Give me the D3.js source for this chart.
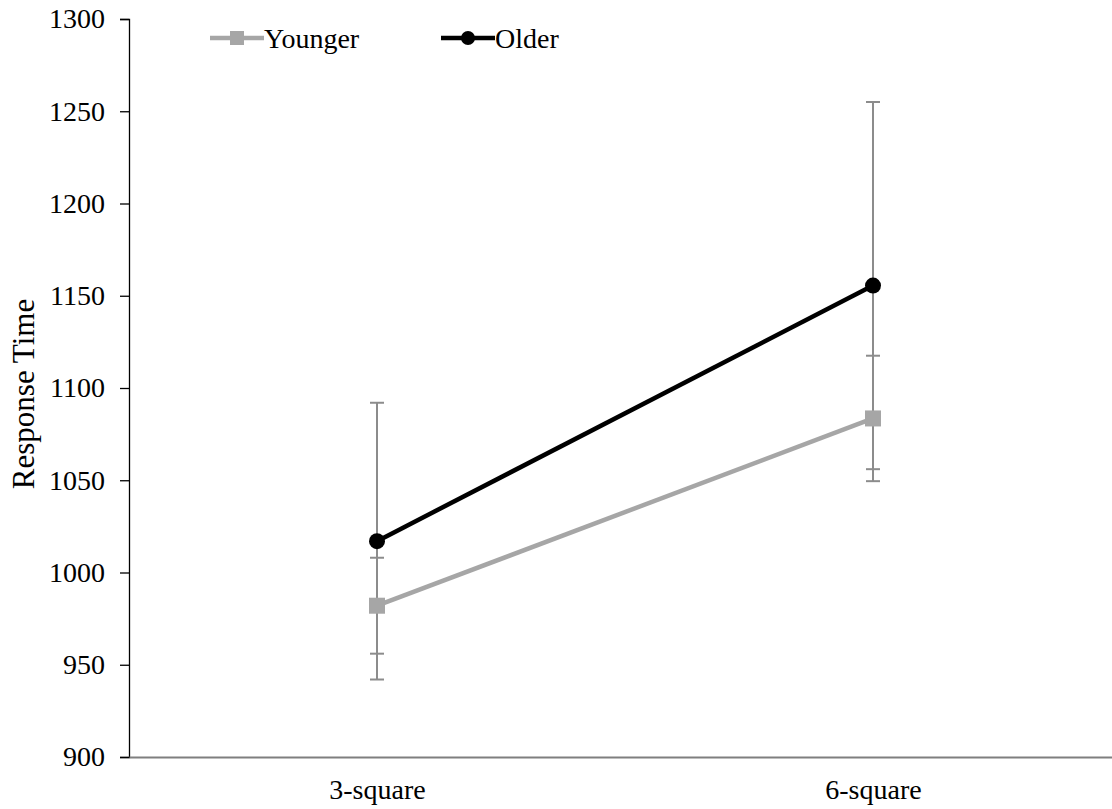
<!DOCTYPE html>
<html>
<head>
<meta charset="utf-8">
<script src="https://cdn.jsdelivr.net/npm/d3@7"></script>
<style>
  body { margin: 0; background: #fff; }
  svg text { font-family: "Liberation Serif", "DejaVu Serif", "Times New Roman", Times, serif !important; }
</style>
</head>
<body>
<script>
var width = 1112,
    height = 809;

// data
var categories = ["3-square", "6-square"];
var younger = [982, 1083.5];
var youngerErr = [26, 34];
var older = [1017, 1155.5];
var olderErr = [75, 99.5];
var yTicks = [900, 950, 1000, 1050, 1100, 1150, 1200, 1250, 1300];

var series = [
  {name: "Younger", values: younger, err: youngerErr, color: "#a6a6a6", shape: "square"},
  {name: "Older", values: older, err: olderErr, color: "#000000", shape: "circle"}
];

const m = {left: 129, right: 1121, top: 19, bottom: 757};

var svg = d3.select("body").append("svg")
  .attr("width", width)
  .attr("height", height);

var x = d3.scalePoint()
  .domain(categories)
  .range([m.left, m.right])
  .padding(0.5);

var y = d3.scaleLinear()
  .domain([900, 1300])
  .range([m.bottom, m.top]);

// y axis
var yAxis = svg.append("g")
  .attr("transform", "translate(" + m.left + ",0)")
  .call(d3.axisLeft(y).tickValues(yTicks).tickFormat(d3.format("d")).tickSize(9).tickPadding(15));
yAxis.attr("font-family", null).attr("font-size", null);
yAxis.select(".domain").attr("stroke", "#000").attr("stroke-width", 1.3);
yAxis.selectAll(".tick line").attr("stroke", "#000").attr("stroke-width", 1.3);
yAxis.selectAll("text")
  .style("font-size", "28px")
  .attr("fill", "#000");

// x axis
var xAxis = svg.append("g")
  .attr("transform", "translate(0," + m.bottom + ")")
  .call(d3.axisBottom(x).tickSize(0).tickPadding(22));
xAxis.attr("font-family", null).attr("font-size", null);
xAxis.select(".domain").attr("stroke", "#7f7f7f").attr("stroke-width", 2);
xAxis.selectAll("text")
  .style("font-size", "28px")
  .attr("fill", "#000");

svg.append("text")
  .attr("transform", "translate(34,394) rotate(-90)")
  .attr("text-anchor", "middle")
  .style("font-size", "31px")
  .text("Response Time");

// error bars
var capW = 7;
series.forEach(function(s) {
  var eb = svg.append("g").attr("class", "err");
  s.values.forEach(function(v, i) {
    var cx = x(categories[i]);
    var lo = y(v - s.err[i]), hi = y(v + s.err[i]);
    eb.append("line").attr("x1", cx).attr("x2", cx).attr("y1", lo).attr("y2", hi)
      .attr("stroke", "#8c8c8c").attr("stroke-width", 2);
    [lo, hi].forEach(function(yy) {
      eb.append("line").attr("x1", cx - capW).attr("x2", cx + capW).attr("y1", yy).attr("y2", yy)
        .attr("stroke", "#8c8c8c").attr("stroke-width", 2);
    });
  });
});

// lines and markers
var line = d3.line()
  .x(function(d, i) { return x(categories[i]); })
  .y(function(d) { return y(d); });

series.forEach(function(s) {
  svg.append("path")
    .datum(s.values)
    .attr("fill", "none")
    .attr("stroke", s.color)
    .attr("stroke-width", 4.5)
    .attr("d", line);
  s.values.forEach(function(v, i) {
    var cx = x(categories[i]), cy = y(v);
    if (s.shape === "circle") {
      svg.append("circle").attr("cx", cx).attr("cy", cy).attr("r", 8).attr("fill", s.color);
    } else {
      svg.append("rect").attr("x", cx - 8).attr("y", cy - 8).attr("width", 16).attr("height", 16).attr("fill", s.color);
    }
  });
});

// legend
var legendX = [210, 441];
series.forEach(function(s, i) {
  var g = svg.append("g").attr("transform", "translate(" + legendX[i] + ",38)");
  g.append("line").attr("x1", 0).attr("x2", 54).attr("y1", 0).attr("y2", 0)
    .attr("stroke", s.color).attr("stroke-width", 4.5);
  if (s.shape === "circle") {
    g.append("circle").attr("cx", 27).attr("cy", 0).attr("r", 7).attr("fill", s.color);
  } else {
    g.append("rect").attr("x", 20).attr("y", -7).attr("width", 14).attr("height", 14).attr("fill", s.color);
  }
  g.append("text").attr("x", 54).attr("y", 0).attr("dy", "0.35em")
    .style("font-size", "28px")
    .text(s.name);
});
</script>
</body>
</html>
